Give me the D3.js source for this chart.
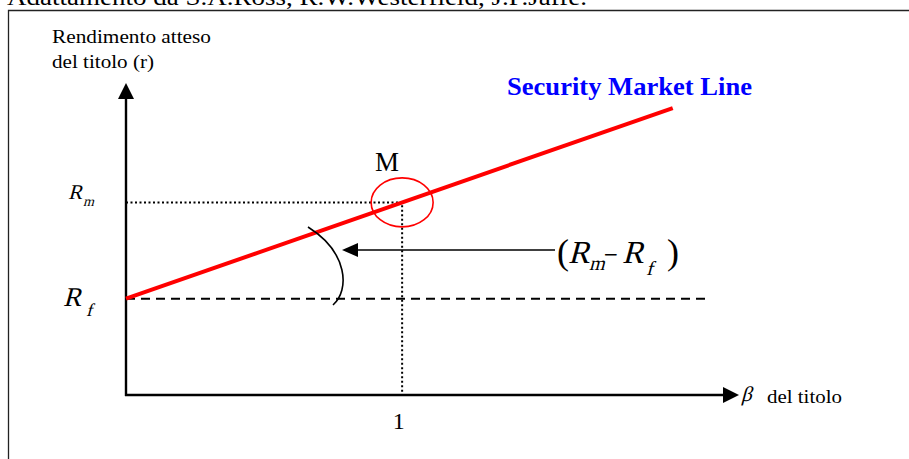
<!DOCTYPE html>
<html>
<head>
<meta charset="utf-8">
<script src="https://cdn.jsdelivr.net/npm/d3@7"></script>
<style>
  body { margin: 0; background: #fff; }
  svg { display: block; }
  text { font-family: "Liberation Serif", serif; }
</style>
</head>
<body>
<div id="chart"></div>
<script>
// values
const betaDomain = [0, 2.22]      // beta axis, arrow tip at the end
const rDomain = [0, 16.2]         // return axis, arrow tip at the end
const rf = 5                      // risk free
const rm = 10                     // market return
const betaM = 1                   // market beta
const smlBeta = [0, 1.98]         // red security market line runs over this
const rfLineBeta = [0, 2.11]      // dashed Rf line
const premiumR = 7.53             // level of the (Rm - Rf) arrow
const xTicks = [1]
const xTickLabels = ["1"]

const W = 909, H = 459
const SERIF = "Liberation Serif"

const svg = d3.select("#chart").append("svg")
  .attr("width", W)
  .attr("height", H)

const x = d3.scaleLinear().domain(betaDomain).range([126, 739])
const y = d3.scaleLinear().domain(rDomain).range([395, 83])

// slanted serif text (the italic face falls back to a sans here, so skew the roman one)
function it(px, py, size, s) {
  return svg.append("g")
    .attr("transform", `translate(${px},${py}) skewX(-15)`)
    .append("text")
    .attr("font-family", SERIF)
    .attr("font-size", size)
    .text(s)
}

// title, cut off at the top
svg.append("text")
  .attr("x", 7).attr("y", 5)
  .attr("font-size", 24)
  .attr("textLength", 580)
  .attr("lengthAdjust", "spacingAndGlyphs")
  .text("Adattamento da S.A.Ross, R.W.Westerfield, J.F.Jaffe.")

// frame
svg.append("path")
  .attr("d", `M8.5,${H} L8.5,10.5 L${W},10.5`)
  .attr("fill", "none")
  .attr("stroke", "#222")
  .attr("stroke-width", 1.3)

// Rf dashed line
svg.append("line")
  .attr("x1", x(rfLineBeta[0])).attr("x2", x(rfLineBeta[1]))
  .attr("y1", y(rf)).attr("y2", y(rf))
  .attr("stroke", "#000")
  .attr("stroke-width", 2)
  .attr("stroke-dasharray", "9,6")

// Rm dotted guides
svg.append("path")
  .attr("d", `M${x(0)},${y(rm)} L${x(betaM)},${y(rm)} L${x(betaM)},${y(0)}`)
  .attr("fill", "none")
  .attr("stroke", "#000")
  .attr("stroke-width", 2)
  .attr("stroke-dasharray", "2,2.5")

// axes with arrows
const axisG = svg.append("g")
axisG.append("line")
  .attr("x1", x(0)).attr("x2", x(0))
  .attr("y1", y(0) + 1).attr("y2", y(rDomain[1]) + 14)
  .attr("stroke", "#000").attr("stroke-width", 2.4)
axisG.append("path")
  .attr("d", `M${x(0)},${y(rDomain[1])} L${x(0) - 8},${y(rDomain[1]) + 16} L${x(0) + 8},${y(rDomain[1]) + 16}Z`)
axisG.append("line")
  .attr("x1", x(0) - 1).attr("x2", x(betaDomain[1]) - 14)
  .attr("y1", y(0)).attr("y2", y(0))
  .attr("stroke", "#000").attr("stroke-width", 2.4)
axisG.append("path")
  .attr("d", `M${x(betaDomain[1])},${y(0)} L${x(betaDomain[1]) - 16},${y(0) - 8} L${x(betaDomain[1]) - 16},${y(0) + 8}Z`)

// x tick label through a d3 axis
const xAxis = d3.axisBottom(x)
  .tickValues(xTicks)
  .tickSize(0)
  .tickPadding(0)
  .tickFormat((d, i) => xTickLabels[i])
const xg = svg.append("g")
  .attr("transform", `translate(0,${y(0)})`)
  .call(xAxis)
xg.select(".domain").remove()
xg.selectAll("text")
  .attr("font-family", SERIF)
  .attr("font-size", 24)
  .attr("fill", "#000")
  .attr("dy", null)
  .attr("y", 34)
  .attr("dx", -4)

// security market line
const sml = d3.line().x(d => x(d)).y(d => y(rf + (rm - rf) * d))
svg.append("path")
  .datum(smlBeta)
  .attr("d", sml)
  .attr("fill", "none")
  .attr("stroke", "#ff0000")
  .attr("stroke-width", 4)

// circle round M
svg.append("ellipse")
  .attr("cx", x(betaM)).attr("cy", y(rm))
  .attr("rx", 31).attr("ry", 24.5)
  .attr("fill", "none")
  .attr("stroke", "#ff0000")
  .attr("stroke-width", 1.6)

svg.append("text")
  .attr("x", x(betaM) - 15).attr("y", 171)
  .attr("text-anchor", "middle")
  .attr("font-size", 27)
  .text("M")

// angle arc
svg.append("path")
  .attr("d", "M308,227 C348,252 350,290 333,305")
  .attr("fill", "none")
  .attr("stroke", "#000")
  .attr("stroke-width", 1.6)

// premium arrow
const ay = y(premiumR)
svg.append("line")
  .attr("x1", 555).attr("x2", 352)
  .attr("y1", ay).attr("y2", ay)
  .attr("stroke", "#000").attr("stroke-width", 1.6)
svg.append("path")
  .attr("d", `M342,${ay} L358,${ay - 7} L358,${ay + 7}Z`)

// (Rm - Rf)
svg.append("text").attr("x", 557).attr("y", 264).attr("font-family", SERIF).attr("font-size", 36).text("(")
it(568, 263, 32, "R")
it(589, 270, 20, "m")
svg.append("text")
  .attr("x", 604).attr("y", 264)
  .attr("font-family", SERIF).attr("font-size", 28)
  .attr("textLength", 14).attr("lengthAdjust", "spacingAndGlyphs")
  .text("\u2212")
it(622, 263, 32, "R")
it(646, 275, 20, "f")
svg.append("text").attr("x", 667).attr("y", 264).attr("font-family", SERIF).attr("font-size", 36).text(")")

// y labels Rm and Rf
it(68, 199, 21, "R")
it(83, 206, 14, "m")
it(63, 306, 27, "R")
it(86, 316, 18, "f")

// axis titles
svg.append("text")
  .attr("x", 52).attr("y", 43)
  .attr("font-size", 19.5)
  .attr("textLength", 159).attr("lengthAdjust", "spacingAndGlyphs")
  .text("Rendimento atteso")
svg.append("text")
  .attr("x", 52).attr("y", 68)
  .attr("font-size", 19.5)
  .attr("textLength", 102).attr("lengthAdjust", "spacingAndGlyphs")
  .text("del titolo (r)")

it(741, 401, 21, "\u03b2")
svg.append("text")
  .attr("x", 767).attr("y", 403)
  .attr("font-size", 19.5)
  .attr("textLength", 75).attr("lengthAdjust", "spacingAndGlyphs")
  .text("del titolo")

// label of the red line
svg.append("text")
  .attr("x", 507).attr("y", 95)
  .attr("font-size", 26)
  .attr("font-weight", "bold")
  .attr("fill", "#0000ff")
  .attr("textLength", 245).attr("lengthAdjust", "spacingAndGlyphs")
  .text("Security Market Line")
</script>
</body>
</html>
